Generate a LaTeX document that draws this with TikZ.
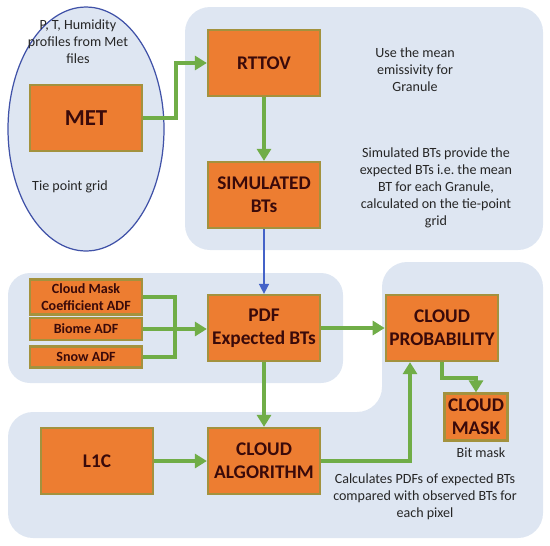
\documentclass[tikz,border=0pt]{standalone}
\usepackage{fontspec}
\setmainfont{Carlito}
\usepackage{tikz}
\usetikzlibrary{arrows.meta,positioning,shapes.geometric}
\definecolor{zonefill}{HTML}{DEE6F2}
\definecolor{zoneline}{HTML}{4052A8}
\definecolor{boxfill}{HTML}{ED7D31}
\definecolor{boxline}{HTML}{A3923E}
\definecolor{boxtext}{HTML}{3A0A0A}
\definecolor{arrgreen}{HTML}{70AD47}
\definecolor{arrblue}{HTML}{4462C8}
\tikzset{
  block/.style={draw=boxline, line width=1.3pt, fill=boxfill, align=center,
    text=boxtext, font=\fontsize{11}{13}\selectfont\bfseries,
    minimum width=2.24cm, minimum height=1.32cm, inner sep=2pt},
  adfblock/.style={block, font=\fontsize{8}{9.6}\selectfont\bfseries, minimum height=0.44cm},
  zone/.style={fill=zonefill, draw=none},
  note/.style={align=center, text=black!85, font=\fontsize{8}{9.7}\selectfont},
  arr/.style={draw=arrgreen, line width=2pt, -{Triangle[length=2.4mm,width=2.8mm]}},
  line/.style={draw=arrgreen, line width=2pt},
  barr/.style={draw=arrblue, line width=0.9pt, -{Triangle[length=2mm,width=2mm]}}
}

\begin{document}
\begin{tikzpicture}[x=0.02cm, y=-0.02cm]
  \useasboundingbox (0,0) rectangle (550,545);
  % background zones
  \node[ellipse, fill=zonefill, draw=zoneline, line width=0.7pt,
    minimum width=3.12cm, minimum height=4.88cm] (metzone) at (86,129) {};
  \fill[zone, rounded corners=0.5cm] (185,7) rectangle (543,250);
  \fill[zone, rounded corners=0.44cm] (8,273) rectangle (343,383);
  \fill[zone, rounded corners=0.5cm] (8,412) -- (382,412) -- (382,262)
    -- (543,262) -- (543,538) -- (8,538) -- cycle;

  % boxes
  \node[block, font=\fontsize{13}{15}\selectfont\bfseries] (met) at (86,118) {MET};
  \node[block] (rttov) at (264,63) {RTTOV};
  \node[block] (sim) at (264,195) {SIMULATED\\BTs};
  \node[block] (pdf) at (264,328) {PDF\\Expected BTs};
  \node[adfblock, minimum height=0.7cm] (cmc) at (86,297) {Cloud Mask\\Coefficient ADF};
  \node[adfblock] (biome) at (86,329) {Biome ADF};
  \node[adfblock, minimum height=0.42cm] (snow) at (86,357) {Snow ADF};
  \node[block] (l1c) at (97,461) {L1C};
  \node[block] (algo) at (264,461) {CLOUD\\ALGORITHM};
  \node[block] (prob) at (442,328) {CLOUD\\PROBABILITY};
  \node[block, minimum width=1.22cm, minimum height=0.94cm] (mask) at (476,417) {CLOUD\\MASK};

  % notes
  \node[note] (metnote) at (78,42) {P, T, Humidity\\profiles from Met\\files};
  \node[note] (tienote) at (70,187) {Tie point grid};
  \node[note] (emisnote) at (415,70) {Use the mean\\emissivity for\\Granule};
  \node[note] (simnote) at (436,188) {Simulated BTs provide the\\expected BTs i.e.\ the mean\\BT for each Granule,\\calculated on the tie-point\\grid};
  \node[note] (bitnote) at (481,453) {Bit mask};
  \node[note] (calcnote) at (425,497) {Calculates PDFs of expected BTs\\compared with observed BTs for\\each pixel};

  % connectors
  \coordinate (join) at (175,329);
  \draw[arr] (met.east) -- ++(33,0) |- (rttov.west);
  \draw[arr] (rttov) -- (sim);
  \draw[barr] (sim) -- (pdf);
  \draw[line] (cmc.east) -| (join);
  \draw[line] (snow.east) -| (join);
  \draw[arr] (biome.east) -- (biome.east -| pdf.west);
  \draw[arr] (pdf) -- (algo);
  \draw[arr] (pdf) -- (prob);
  \draw[arr] (l1c) -- (algo);
  \draw[arr] (algo.east) -| ([xshift=-0.64cm]prob.south);
  \draw[arr] (prob.south) -- ++(0,16) -| (mask.north);
\end{tikzpicture}
\end{document}
